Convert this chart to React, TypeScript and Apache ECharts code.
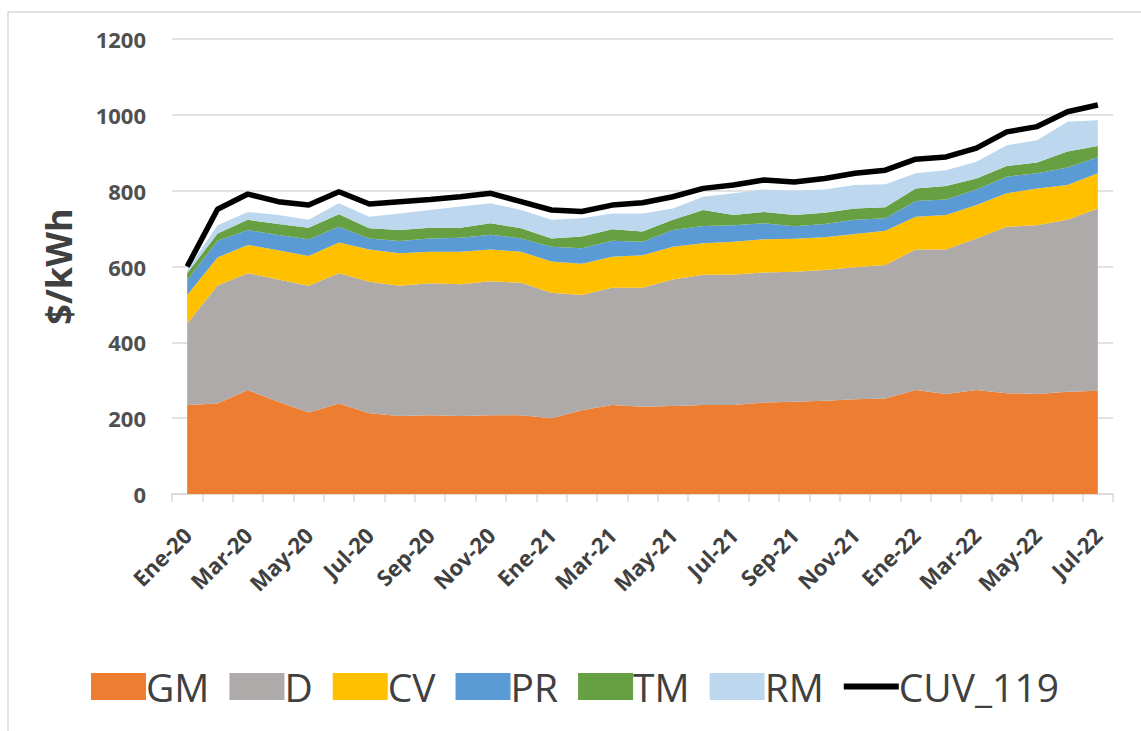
import React, { useEffect, useRef } from "react";
import * as echarts from "echarts";

const months = [
  "Ene-20", "Feb-20", "Mar-20", "Abr-20", "May-20", "Jun-20", "Jul-20", "Ago-20", "Sep-20", "Oct-20", "Nov-20", "Dic-20",
  "Ene-21", "Feb-21", "Mar-21", "Abr-21", "May-21", "Jun-21", "Jul-21", "Ago-21", "Sep-21", "Oct-21", "Nov-21", "Dic-21",
  "Ene-22", "Feb-22", "Mar-22", "Abr-22", "May-22", "Jun-22", "Jul-22",
];

const GM = [235, 239, 274, 243, 215, 239, 213, 206, 208, 206, 208, 208, 200, 221, 235, 230, 232, 235, 235, 241, 243, 246, 250, 252, 274, 264, 274, 266, 264, 270, 272];
const D = [215, 311, 308, 323, 334, 343, 347, 343, 348, 347, 353, 349, 331, 304, 309, 314, 334, 343, 344, 343, 343, 345, 348, 352, 371, 381, 400, 439, 445, 453, 481];
const CV = [75, 74, 75, 77, 79, 81, 85, 86, 83, 86, 84, 82, 82, 82, 82, 86, 86, 83, 86, 88, 87, 86, 88, 90, 86, 91, 88, 88, 97, 92, 93];
const PR = [39, 44, 39, 40, 44, 42, 29, 32, 35, 37, 39, 35, 39, 41, 42, 35, 44, 46, 44, 42, 33, 35, 37, 33, 42, 41, 41, 44, 40, 46, 42];
const TM = [18, 19, 27, 29, 30, 33, 27, 29, 28, 26, 30, 27, 22, 31, 30, 27, 27, 42, 27, 30, 30, 30, 30, 29, 33, 35, 29, 28, 28, 42, 30];
const RM = [9, 22, 21, 24, 21, 29, 30, 44, 47, 56, 53, 48, 49, 48, 42, 48, 30, 35, 57, 59, 64, 61, 62, 61, 40, 42, 44, 55, 59, 79, 68];
const CUV_119 = [600, 751, 791, 771, 762, 797, 765, 771, 777, 784, 793, 771, 749, 745, 762, 768, 784, 806, 815, 828, 823, 832, 846, 854, 883, 889, 912, 955, 969, 1008, 1026];

const yTicks = { min: 0, max: 1200, interval: 200 };

const areaSeries = [
  { name: "GM", data: GM, color: "#ED7D31" },
  { name: "D", data: D, color: "#AEAAAA" },
  { name: "CV", data: CV, color: "#FFC000" },
  { name: "PR", data: PR, color: "#5B9BD5" },
  { name: "TM", data: TM, color: "#66A043" },
  { name: "RM", data: RM, color: "#BDD7EE" },
];

const FONT = "'Open Sans', 'Noto Sans', sans-serif";

export default function App() {
  const ref = useRef<HTMLDivElement>(null);

  useEffect(() => {
    if (!ref.current) return;
    const chart = echarts.init(ref.current, undefined, { renderer: "svg" });
    const option: any = {
      animation: false,
      backgroundColor: "#FFFFFF",
      graphic: [
        {
          type: "rect",
          shape: { x: 8, y: 12, width: 1300, height: 900 },
          style: { fill: "transparent", stroke: "#D9D9D9", lineWidth: 1.5 },
          silent: true,
          z: -10,
        },
      ],
      grid: { left: 172, right: 28, top: 39, bottom: 237, containLabel: false, outerBoundsMode: "none" },
      legend: {
        left: 86,
        top: 662,
        itemWidth: 55,
        itemHeight: 27,
        itemGap: 20,
        textStyle: { fontFamily: FONT, fontSize: 39, color: "#404040", padding: [0, 0, 0, -5] },
        data: [
          { name: "GM", icon: "rect" },
          { name: "D", icon: "rect" },
          { name: "CV", icon: "rect" },
          { name: "PR", icon: "rect" },
          { name: "TM", icon: "rect" },
          { name: "RM", icon: "rect" },
          { name: "CUV_119", icon: "path://M0,0 L100,0 L100,11 L0,11 Z" },
        ],
      },
      xAxis: {
        type: "category",
        data: months,
        boundaryGap: true,
        axisLine: { show: true, lineStyle: { color: "#D9D9D9", width: 1.5 } },
        axisTick: { show: true, interval: 0, length: 8, lineStyle: { color: "#D9D9D9", width: 1.5 } },
        axisLabel: {
          interval: 1,
          rotate: 45,
          margin: 37,
          fontFamily: FONT,
          fontSize: 22,
          fontWeight: "bold",
          color: "#404040",
        },
        splitLine: { show: false },
      },
      yAxis: {
        type: "value",
        min: yTicks.min,
        max: yTicks.max,
        interval: yTicks.interval,
        name: "$/kWh",
        nameLocation: "middle",
        nameGap: 96,
        nameTextStyle: { fontFamily: FONT, fontSize: 36, fontWeight: "bold", color: "#404040" },
        axisLine: { show: false },
        axisTick: { show: false },
        axisLabel: {
          margin: 26,
          fontFamily: FONT,
          fontSize: 22,
          fontWeight: "bold",
          color: "#505050",
          formatter: (v: number) => String(v),
        },
        splitLine: { show: true, lineStyle: { color: "#D9D9D9", width: 1.5 } },
      },
      series: [
        ...areaSeries.map((s) => ({
          name: s.name,
          type: "line",
          stack: "total",
          data: s.data,
          symbol: "none",
          lineStyle: { width: 0 },
          areaStyle: { color: s.color, opacity: 1 },
          itemStyle: { color: s.color },
          color: s.color,
        })),
        {
          name: "CUV_119",
          type: "line",
          data: CUV_119,
          symbol: "none",
          showSymbol: false,
          lineStyle: { color: "#000000", width: 5.5 },
          itemStyle: { color: "#000000" },
          color: "#000000",
          z: 5,
        },
      ],
    };
    chart.setOption(option);
    return () => chart.dispose();
  }, []);

  return (
    <div
      ref={ref}
      style={{ position: "fixed", left: 0, top: 0, width: 1141, height: 731 }}
    />
  );
}
